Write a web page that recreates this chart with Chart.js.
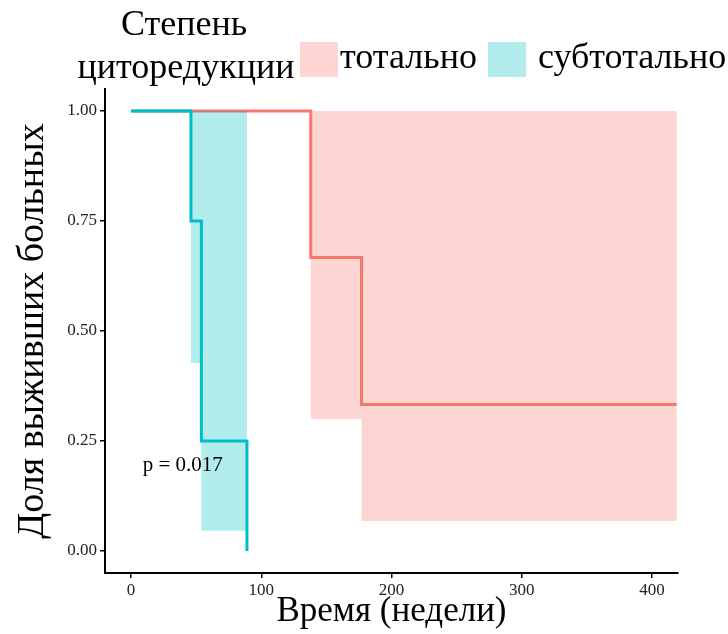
<!DOCTYPE html>
<html>
<head>
<meta charset="utf-8">
<script src="https://cdn.jsdelivr.net/npm/chart.js@4.4.0/dist/chart.umd.min.js"></script>
<style>
  body { margin: 0; background: #fff; }
</style>
</head>
<body>
<canvas id="survChart" width="728" height="634"></canvas>
<script>
// Kaplan-Meier: survival by degree of cytoreduction
const groups = ["тотально", "субтотально"];
const legendTitle = ["Степень", "циторедукции"];

const timeTotal = [0, 138, 177, 419];
const survTotal = [1, 0.667, 0.333, 0.333];
const lowerTotal = [1, 0.30, 0.068, 0.068];

const timeSub = [0, 46, 54, 89];
const survSub = [1, 0.75, 0.25, 0];
const lowerSub = [1, 0.427, 0.046, 0.046];

const xTicks = [0, 100, 200, 300, 400];
const yTicks = [0, 0.25, 0.5, 0.75, 1];
const pValue = "p = 0.017";

const red = "#F8766D";
const teal = "#00BFC4";
const redBand = "rgba(248,118,109,0.3)";
const tealBand = "rgba(0,191,196,0.3)";
const serif = '"Liberation Serif", "Times New Roman", serif';

function pts(xs, ys) {
  return xs.map((x, i) => ({ x: x, y: ys[i] }));
}

const topLegend = {
  id: "topLegend",
  afterDraw(chart) {
    const ctx = chart.ctx;
    ctx.save();
    ctx.fillStyle = "#000";
    ctx.font = "36px " + serif;
    ctx.textAlign = "center";
    ctx.textBaseline = "alphabetic";
    ctx.fillText(legendTitle[0], 184, 35);
    ctx.fillText(legendTitle[1], 186, 78);

    ctx.textAlign = "left";
    ctx.fillStyle = redBand;
    ctx.fillRect(300, 42, 38, 35);
    ctx.fillStyle = tealBand;
    ctx.fillRect(488, 42, 38, 35);
    ctx.fillStyle = "#000";
    ctx.fillText(groups[0], 340, 68);
    ctx.fillText(groups[1], 538, 68);

    // p-value note inside the plot
    const xs = chart.scales.x, ys = chart.scales.y;
    ctx.font = "21px " + serif;
    ctx.textBaseline = "middle";
    ctx.fillText(pValue, xs.getPixelForValue(9), ys.getPixelForValue(0.195));
    ctx.restore();
  }
};

new Chart("survChart", {
  type: "scatter",
  data: {
    datasets: [
      {
        data: pts(timeTotal, lowerTotal),
        showLine: true, stepped: true,
        borderWidth: 0, pointRadius: 0,
        backgroundColor: redBand,
        fill: { value: 1 },
        order: 4
      },
      {
        data: pts(timeTotal, survTotal),
        showLine: true, stepped: true,
        borderColor: red, borderWidth: 3, pointRadius: 0,
        order: 3
      },
      {
        data: pts(timeSub, lowerSub),
        showLine: true, stepped: true,
        borderWidth: 0, pointRadius: 0,
        backgroundColor: tealBand,
        fill: { value: 1 },
        order: 2
      },
      {
        data: pts(timeSub, survSub),
        showLine: true, stepped: true,
        borderColor: teal, borderWidth: 3, pointRadius: 0,
        order: 1
      }
    ]
  },
  options: {
    responsive: false,
    animation: false,
    layout: { padding: { top: 89, right: 50, left: 0, bottom: 0 } },
    plugins: {
      legend: { display: false },
      tooltip: { enabled: false }
    },
    scales: {
      x: {
        type: "linear",
        min: -20, max: 420,
        afterFit(s) { s.height = 61; },
        afterBuildTicks(s) { s.ticks = xTicks.map(v => ({ value: v })); },
        border: { display: true, color: "#000", width: 2 },
        grid: { display: true, drawOnChartArea: false, drawTicks: true, tickLength: 5, color: "#000", lineWidth: 1.5 },
        ticks: { color: "#222", font: { family: serif, size: 17 }, padding: 2 },
        title: { display: true, text: "Время (недели)", color: "#000", font: { family: serif, size: 35 }, padding: { top: 0, bottom: 1 } }
      },
      y: {
        type: "linear",
        min: -0.05, max: 1.05,
        afterFit(s) { s.width = 105; },
        afterBuildTicks(s) { s.ticks = yTicks.map(v => ({ value: v })); },
        border: { display: true, color: "#000", width: 2 },
        grid: { display: true, drawOnChartArea: false, drawTicks: true, tickLength: 5, color: "#000", lineWidth: 1.5 },
        ticks: { color: "#222", font: { family: serif, size: 17 }, padding: 3, callback: v => v.toFixed(2) },
        title: { display: true, text: "Доля выживших больных", color: "#000", font: { family: serif, size: 38 }, padding: { top: 10, bottom: 0 } }
      }
    }
  },
  plugins: [topLegend]
});
</script>
</body>
</html>
